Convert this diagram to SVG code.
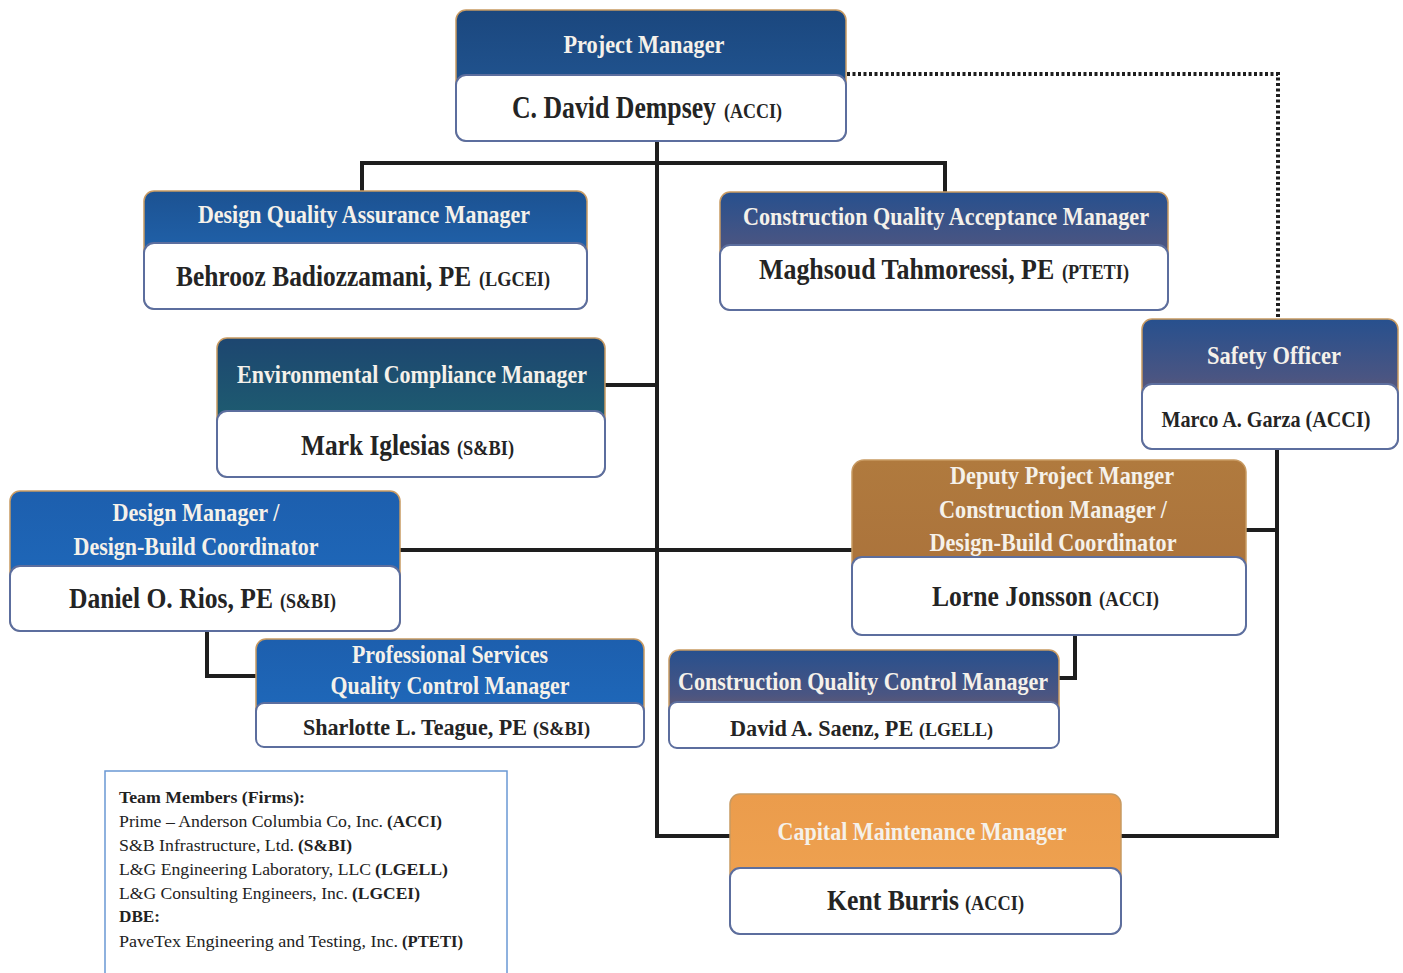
<svg xmlns="http://www.w3.org/2000/svg" width="1403" height="973" viewBox="0 0 1403 973">
<defs>
<linearGradient id="gPM" x1="0" y1="0" x2="0" y2="1"><stop offset="0" stop-color="#1b477e"/><stop offset="1" stop-color="#245c9b"/></linearGradient>
<linearGradient id="gBlue" x1="0" y1="0" x2="0" y2="1"><stop offset="0" stop-color="#1c5292"/><stop offset="1" stop-color="#2470c0"/></linearGradient>
<linearGradient id="gBlue2" x1="0" y1="0" x2="0" y2="1"><stop offset="0" stop-color="#1d5fae"/><stop offset="1" stop-color="#1f6cbf"/></linearGradient>
<linearGradient id="gBB" x1="0" y1="0" x2="0" y2="1"><stop offset="0" stop-color="#27508e"/><stop offset="0.45" stop-color="#4a5582"/><stop offset="1" stop-color="#a0644a"/></linearGradient>
<linearGradient id="gTeal" x1="0" y1="0" x2="0" y2="1"><stop offset="0" stop-color="#1d4670"/><stop offset="1" stop-color="#1e6b70"/></linearGradient>
<linearGradient id="gBrown" x1="0" y1="0" x2="0" y2="1"><stop offset="0" stop-color="#b07a3e"/><stop offset="1" stop-color="#a86f3a"/></linearGradient>
<linearGradient id="gOrange" x1="0" y1="0" x2="0" y2="1"><stop offset="0" stop-color="#eb9c4c"/><stop offset="1" stop-color="#f0a452"/></linearGradient>
</defs>
<style>
.hd{stroke:#c89a62;stroke-width:1.5}
.bd{fill:#ffffff;stroke:#5c6e9e;stroke-width:2}
.t{font-family:"Liberation Serif","Times New Roman",serif;font-weight:bold;fill:#f5f1ea;text-anchor:middle}
.n{font-family:"Liberation Serif","Times New Roman",serif;font-weight:bold;fill:#242424}
.c{fill:none;stroke:#1e1e1e;stroke-width:4}
.dot{fill:none;stroke:#1e1e1e;stroke-width:4;stroke-dasharray:3 2.5}
.lg{font-family:"Liberation Serif","Times New Roman",serif;font-size:17px;fill:#222}
.b{font-weight:bold}
</style>
<rect width="1403" height="973" fill="#ffffff"/>
<g id="connectors">
<path class="c" d="M657,141 V836 H731"/>
<path class="c" d="M362,191 V163 H945 V192"/>
<path class="c" d="M605,385 H657"/>
<path class="c" d="M400,550 H853"/>
<path class="c" d="M207,631 V676 H256"/>
<path class="c" d="M1075,635 V678 H1059"/>
<path class="c" d="M1246,530 H1277"/>
<path class="c" d="M1277,449 V836 H1121"/>
<path class="dot" d="M847,74 H1278 V319"/>
</g>
<g id="pm">
<rect class="hd" x="456" y="10" width="390" height="131" rx="10" fill="url(#gPM)"/>
<rect class="bd" x="456" y="75" width="390" height="66" rx="10"/>
<text class="t" x="644" y="53" font-size="26" textLength="161" lengthAdjust="spacingAndGlyphs">Project Manager</text>
<text class="n" transform="translate(512,118) scale(0.8,1)" font-size="31" textLength="255" lengthAdjust="spacingAndGlyphs">C. David Dempsey</text>
<text class="n" x="724" y="118" font-size="20" textLength="58" lengthAdjust="spacingAndGlyphs">(ACCI)</text>
</g>
<g id="dqa">
<rect class="hd" x="144" y="191" width="443" height="118" rx="10" fill="url(#gBlue)"/>
<rect class="bd" x="144" y="243" width="443" height="66" rx="10"/>
<text class="t" x="364" y="223" font-size="25" textLength="332" lengthAdjust="spacingAndGlyphs">Design Quality Assurance Manager</text>
<text class="n" transform="translate(176,286) scale(0.8,1)" font-size="29" textLength="369" lengthAdjust="spacingAndGlyphs">Behrooz Badiozzamani, PE</text>
<text class="n" x="479" y="286" font-size="20" textLength="71" lengthAdjust="spacingAndGlyphs">(LGCEI)</text>
</g>
<g id="cqa">
<rect class="hd" x="720" y="192" width="448" height="118" rx="10" fill="url(#gBB)"/>
<rect class="bd" x="720" y="245" width="448" height="65" rx="10"/>
<text class="t" x="946" y="225" font-size="25" textLength="406" lengthAdjust="spacingAndGlyphs">Construction Quality Acceptance Manager</text>
<text class="n" transform="translate(759,279) scale(0.8,1)" font-size="29" textLength="369" lengthAdjust="spacingAndGlyphs">Maghsoud Tahmoressi, PE</text>
<text class="n" x="1062" y="279" font-size="20" textLength="67" lengthAdjust="spacingAndGlyphs">(PTETI)</text>
</g>
<g id="safety">
<rect class="hd" x="1142" y="319" width="256" height="130" rx="10" fill="url(#gBB)"/>
<rect class="bd" x="1142" y="384" width="256" height="65" rx="10"/>
<text class="t" x="1274" y="364" font-size="25" textLength="134" lengthAdjust="spacingAndGlyphs">Safety Officer</text>
<text class="n" x="1266" y="427" font-size="23" text-anchor="middle" textLength="209" lengthAdjust="spacingAndGlyphs">Marco A. Garza (ACCI)</text>
</g>
<g id="env">
<rect class="hd" x="217" y="338" width="388" height="139" rx="10" fill="url(#gTeal)"/>
<rect class="bd" x="217" y="411" width="388" height="66" rx="10"/>
<text class="t" x="412" y="383" font-size="25" textLength="350" lengthAdjust="spacingAndGlyphs">Environmental Compliance Manager</text>
<text class="n" transform="translate(301,455) scale(0.8,1)" font-size="29" textLength="186" lengthAdjust="spacingAndGlyphs">Mark Iglesias</text>
<text class="n" x="457" y="455" font-size="20" textLength="57" lengthAdjust="spacingAndGlyphs">(S&amp;BI)</text>
</g>
<g id="dm">
<rect class="hd" x="10" y="491" width="390" height="140" rx="10" fill="url(#gBlue2)"/>
<rect class="bd" x="10" y="566" width="390" height="65" rx="10"/>
<text class="t" x="196" y="521" font-size="25" textLength="167" lengthAdjust="spacingAndGlyphs">Design Manager /</text>
<text class="t" x="196" y="555" font-size="25" textLength="245" lengthAdjust="spacingAndGlyphs">Design-Build Coordinator</text>
<text class="n" transform="translate(69,608) scale(0.8,1)" font-size="29" textLength="255" lengthAdjust="spacingAndGlyphs">Daniel O. Rios, PE</text>
<text class="n" x="280" y="608" font-size="20" textLength="56" lengthAdjust="spacingAndGlyphs">(S&amp;BI)</text>
</g>
<g id="deputy">
<rect class="hd" x="852" y="460" width="394" height="175" rx="12" fill="url(#gBrown)"/>
<rect class="bd" x="852" y="557" width="394" height="78" rx="10"/>
<text class="t" x="1062" y="484" font-size="25" textLength="224" lengthAdjust="spacingAndGlyphs">Deputy Project Manger</text>
<text class="t" x="1053" y="518" font-size="25" textLength="228" lengthAdjust="spacingAndGlyphs">Construction Manager /</text>
<text class="t" x="1053" y="551" font-size="25" textLength="247" lengthAdjust="spacingAndGlyphs">Design-Build Coordinator</text>
<text class="n" transform="translate(932,606) scale(0.8,1)" font-size="29" textLength="200" lengthAdjust="spacingAndGlyphs">Lorne Jonsson</text>
<text class="n" x="1099" y="606" font-size="20" textLength="60" lengthAdjust="spacingAndGlyphs">(ACCI)</text>
</g>
<g id="ps">
<rect class="hd" x="256" y="639" width="388" height="108" rx="10" fill="url(#gBlue2)"/>
<rect class="bd" x="256" y="703" width="388" height="44" rx="8"/>
<text class="t" x="450" y="663" font-size="25" textLength="196" lengthAdjust="spacingAndGlyphs">Professional Services</text>
<text class="t" x="450" y="694" font-size="25" textLength="239" lengthAdjust="spacingAndGlyphs">Quality Control Manager</text>
<text class="n" transform="translate(303,735) scale(0.8,1)" font-size="24" textLength="280" lengthAdjust="spacingAndGlyphs">Sharlotte L. Teague, PE</text>
<text class="n" x="533" y="735" font-size="19" textLength="57" lengthAdjust="spacingAndGlyphs">(S&amp;BI)</text>
</g>
<g id="cqc">
<rect class="hd" x="669" y="650" width="390" height="98" rx="10" fill="url(#gBB)"/>
<rect class="bd" x="669" y="702" width="390" height="46" rx="8"/>
<text class="t" x="863" y="690" font-size="25" textLength="370" lengthAdjust="spacingAndGlyphs">Construction Quality Control Manager</text>
<text class="n" transform="translate(730,736) scale(0.8,1)" font-size="24" textLength="229" lengthAdjust="spacingAndGlyphs">David A. Saenz, PE</text>
<text class="n" x="919" y="736" font-size="19" textLength="74" lengthAdjust="spacingAndGlyphs">(LGELL)</text>
</g>
<g id="capital">
<rect class="hd" x="730" y="794" width="391" height="140" rx="10" fill="url(#gOrange)"/>
<rect class="bd" x="730" y="868" width="391" height="66" rx="10"/>
<text class="t" x="922" y="840" font-size="25" textLength="289" lengthAdjust="spacingAndGlyphs">Capital Maintenance Manager</text>
<text class="n" transform="translate(827,910) scale(0.8,1)" font-size="29" textLength="165" lengthAdjust="spacingAndGlyphs">Kent Burris</text>
<text class="n" x="965" y="910" font-size="20" textLength="59" lengthAdjust="spacingAndGlyphs">(ACCI)</text>
</g>
<g id="legend">
<rect x="105" y="771" width="402" height="206" fill="#ffffff" stroke="#6a98d4" stroke-width="1.5"/>
<text class="lg b" x="119" y="803" textLength="186" lengthAdjust="spacingAndGlyphs">Team Members (Firms):</text>
<text class="lg" x="119" y="827" textLength="264" lengthAdjust="spacingAndGlyphs">Prime – Anderson Columbia Co, Inc.</text>
<text class="lg b" x="387" y="827" textLength="55" lengthAdjust="spacingAndGlyphs">(ACCI)</text>
<text class="lg" x="119" y="851" textLength="175" lengthAdjust="spacingAndGlyphs">S&amp;B Infrastructure, Ltd.</text>
<text class="lg b" x="298" y="851" textLength="54" lengthAdjust="spacingAndGlyphs">(S&amp;BI)</text>
<text class="lg" x="119" y="875" textLength="252" lengthAdjust="spacingAndGlyphs">L&amp;G Engineering Laboratory, LLC</text>
<text class="lg b" x="375" y="875" textLength="73" lengthAdjust="spacingAndGlyphs">(LGELL)</text>
<text class="lg" x="119" y="899" textLength="229" lengthAdjust="spacingAndGlyphs">L&amp;G Consulting Engineers, Inc.</text>
<text class="lg b" x="352" y="899" textLength="68" lengthAdjust="spacingAndGlyphs">(LGCEI)</text>
<text class="lg b" x="119" y="922" textLength="41" lengthAdjust="spacingAndGlyphs">DBE:</text>
<text class="lg" x="119" y="947" textLength="279" lengthAdjust="spacingAndGlyphs">PaveTex Engineering and Testing, Inc.</text>
<text class="lg b" x="402" y="947" textLength="61" lengthAdjust="spacingAndGlyphs">(PTETI)</text>
</g>
</svg>
